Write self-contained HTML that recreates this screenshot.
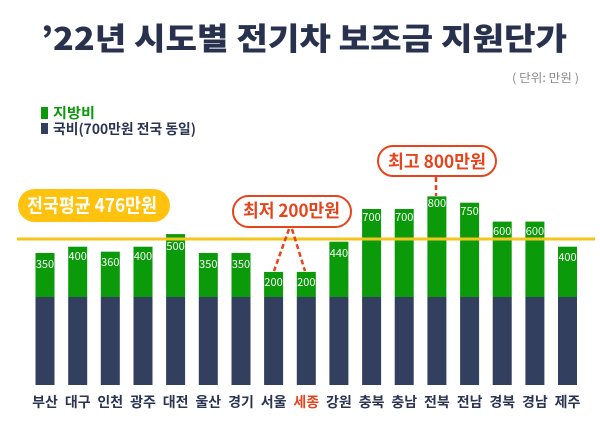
<!DOCTYPE html>
<html><head><meta charset="utf-8"><style>
html,body{margin:0;padding:0;background:#fff;}
svg{display:block;}
.k{font-family:"Noto Sans CJK KR","Liberation Sans",sans-serif;}
</style></head><body>
<svg width="600" height="430" viewBox="0 0 600 430" xmlns="http://www.w3.org/2000/svg">
<rect width="600" height="430" fill="#fff"/>
<text class="k" x="41" y="50" font-size="31" font-weight="900" fill="#28324f" textLength="526" lengthAdjust="spacingAndGlyphs">’22년 시도별 전기차 보조금 지원단가</text>
<text class="k" x="512" y="82" font-size="12" fill="#8a8a8a" textLength="67" lengthAdjust="spacingAndGlyphs">( 단위: 만원 )</text>
<rect x="41" y="107" width="7" height="12" fill="#0a9a0a"/>
<text class="k" x="53" y="118" font-size="14" font-weight="bold" fill="#0a9a0a" textLength="42" lengthAdjust="spacingAndGlyphs">지방비</text>
<rect x="41" y="123" width="7" height="11" fill="#333f5f"/>
<text class="k" x="53" y="134" font-size="14" font-weight="bold" fill="#2b3452" textLength="143" lengthAdjust="spacingAndGlyphs">국비(700만원 전국 동일)</text>

<g fill="#333f5f">
<rect x="35.5" y="297" width="19" height="88"/>
<rect x="68.2" y="297" width="19" height="88"/>
<rect x="100.8" y="297" width="19" height="88"/>
<rect x="133.5" y="297" width="19" height="88"/>
<rect x="166.1" y="297" width="19" height="88"/>
<rect x="198.8" y="297" width="19" height="88"/>
<rect x="231.5" y="297" width="19" height="88"/>
<rect x="264.1" y="297" width="19" height="88"/>
<rect x="296.8" y="297" width="19" height="88"/>
<rect x="329.4" y="297" width="19" height="88"/>
<rect x="362.1" y="297" width="19" height="88"/>
<rect x="394.7" y="297" width="19" height="88"/>
<rect x="427.4" y="297" width="19" height="88"/>
<rect x="460.1" y="297" width="19" height="88"/>
<rect x="492.7" y="297" width="19" height="88"/>
<rect x="525.4" y="297" width="19" height="88"/>
<rect x="558" y="297" width="19" height="88"/>
</g>
<g fill="#0a9a0a">
<rect x="35.5" y="253" width="19" height="44"/>
<rect x="68.2" y="246.7" width="19" height="50.3"/>
<rect x="100.8" y="251.7" width="19" height="45.3"/>
<rect x="133.5" y="246.7" width="19" height="50.3"/>
<rect x="166.1" y="234.1" width="19" height="62.9"/>
<rect x="198.8" y="253" width="19" height="44"/>
<rect x="231.5" y="253" width="19" height="44"/>
<rect x="264.1" y="271.9" width="19" height="25.1"/>
<rect x="296.8" y="271.9" width="19" height="25.1"/>
<rect x="329.4" y="241.7" width="19" height="55.3"/>
<rect x="362.1" y="209" width="19" height="88"/>
<rect x="394.7" y="209" width="19" height="88"/>
<rect x="427.4" y="196.4" width="19" height="100.6"/>
<rect x="460.1" y="202.7" width="19" height="94.3"/>
<rect x="492.7" y="221.6" width="19" height="75.4"/>
<rect x="525.4" y="221.6" width="19" height="75.4"/>
<rect x="558" y="246.7" width="19" height="50.3"/>
</g>
<g class="k" font-size="11" fill="#fff" text-anchor="middle">
<text x="45" y="268">350</text>
<text x="77.7" y="260">400</text>
<text x="110.3" y="266">360</text>
<text x="143" y="260">400</text>
<text x="175.6" y="250">500</text>
<text x="208.3" y="268">350</text>
<text x="241" y="268">350</text>
<text x="273.6" y="286">200</text>
<text x="306.3" y="286">200</text>
<text x="338.9" y="257">440</text>
<text x="371.6" y="221">700</text>
<text x="404.2" y="221">700</text>
<text x="436.9" y="207">800</text>
<text x="469.6" y="215">750</text>
<text x="502.2" y="235">600</text>
<text x="534.9" y="235">600</text>
<text x="567.5" y="261">400</text>
</g>

<line x1="17" y1="239" x2="595" y2="239" stroke="#f5c51b" stroke-width="3"/>
<rect x="18" y="189" width="152" height="33" rx="16.5" fill="#ffc20e"/>
<text class="k" x="27" y="212" font-size="19" font-weight="bold" fill="#fff" textLength="130" lengthAdjust="spacingAndGlyphs">전국평균 476만원</text>

<rect x="233" y="196" width="118" height="31" rx="15.5" fill="#fff" stroke="#e5441c" stroke-width="2"/>
<text class="k" x="243" y="217" font-size="18" font-weight="bold" fill="#e5441c" textLength="97" lengthAdjust="spacingAndGlyphs">최저 200만원</text>
<path d="M289 229 L274 271 M292 229 L305 271" stroke="#e5441c" stroke-width="2.5" stroke-dasharray="5,3" fill="none"/>

<rect x="378" y="146" width="118" height="30" rx="15" fill="#fff" stroke="#e5441c" stroke-width="2"/>
<text class="k" x="388" y="168" font-size="18" font-weight="bold" fill="#e5441c" textLength="98" lengthAdjust="spacingAndGlyphs">최고 800만원</text>
<path d="M436 177 L436 196" stroke="#e5441c" stroke-width="2.5" stroke-dasharray="5,3" fill="none"/>

<g class="k" font-size="14" font-weight="bold" fill="#2b3452" text-anchor="middle">
<text x="45" y="407">부산</text>
<text x="77.7" y="407">대구</text>
<text x="110.3" y="407">인천</text>
<text x="143" y="407">광주</text>
<text x="175.6" y="407">대전</text>
<text x="208.3" y="407">울산</text>
<text x="241" y="407">경기</text>
<text x="273.6" y="407">서울</text>
<text x="306.3" y="407" fill="#e5441c">세종</text>
<text x="338.9" y="407">강원</text>
<text x="371.6" y="407">충북</text>
<text x="404.2" y="407">충남</text>
<text x="436.9" y="407">전북</text>
<text x="469.6" y="407">전남</text>
<text x="502.2" y="407">경북</text>
<text x="534.9" y="407">경남</text>
<text x="567.5" y="407">제주</text>
</g>
</svg>
</body></html>
